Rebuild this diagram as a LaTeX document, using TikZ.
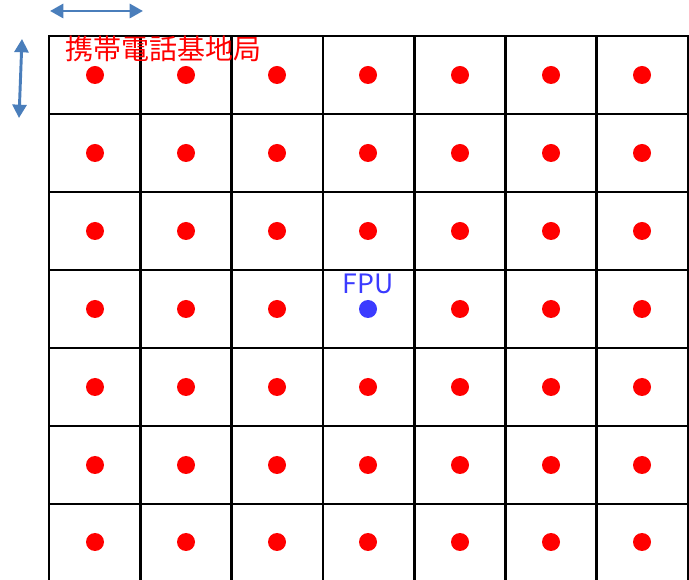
\documentclass[tikz,border=0pt]{standalone}
\usepackage{fontspec}
\newfontfamily\cjk{Noto Sans CJK JP}
\usetikzlibrary{arrows.meta}
\definecolor{arrowblue}{HTML}{4A7EBB}
\definecolor{fpublue}{HTML}{3B3BFF}
\tikzset{
  gridline/.style={line width=2pt, black},
  station/.style={circle, fill=red, minimum size=13.5pt, inner sep=0pt},
  fpudot/.style={circle, fill=fpublue, minimum size=13.5pt, inner sep=0pt},
  dimarrow/.style={arrowblue, line width=2.2pt, {Triangle[width=10.5pt,length=10pt]}-{Triangle[width=10.5pt,length=10pt]}},
}
\begin{document}
\begin{tikzpicture}[x=0.75pt,y=-0.75pt]
\useasboundingbox (0,0) rectangle (689,580);
% grid
\foreach \xx in {49,140.3,231.6,322.9,414.2,505.5,596.8,688}
  \draw[gridline] (\xx,35.5) -- (\xx,580);
\foreach \yy in {36,114,192,270,348,426,504}
  \draw[gridline] (49,\yy) -- (688,\yy);
% dots
\foreach \c [count=\i] in {95,186,277,368,460,551,642}
  \foreach \r [count=\j] in {75,153,231,309,387,465,542}{
    \ifnum\i=4 \ifnum\j=4 \else
      \node[station] (s\i\j) at (\c,\r) {};
    \fi\else
      \node[station] (s\i\j) at (\c,\r) {};
    \fi
  }
\node[fpudot] (fpu) at (368,309) {};
\node[text=fpublue, font=\cjk\fontsize{20}{24}\selectfont, inner sep=0pt] (fpulabel) at (368,284) {FPU};
\node[text=red, font=\cjk\fontsize{21}{24}\selectfont, inner sep=0pt, anchor=west] (title) at (65,49) {携帯電話基地局};
% dimension arrows
\coordinate (hL) at (50,11);
\coordinate (hR) at (143,11);
\coordinate (vT) at (22,39);
\coordinate (vB) at (19,118);
\draw[dimarrow] (hL) -- (hR);
\draw[dimarrow] (vT) -- (vB);
\end{tikzpicture}
\end{document}
